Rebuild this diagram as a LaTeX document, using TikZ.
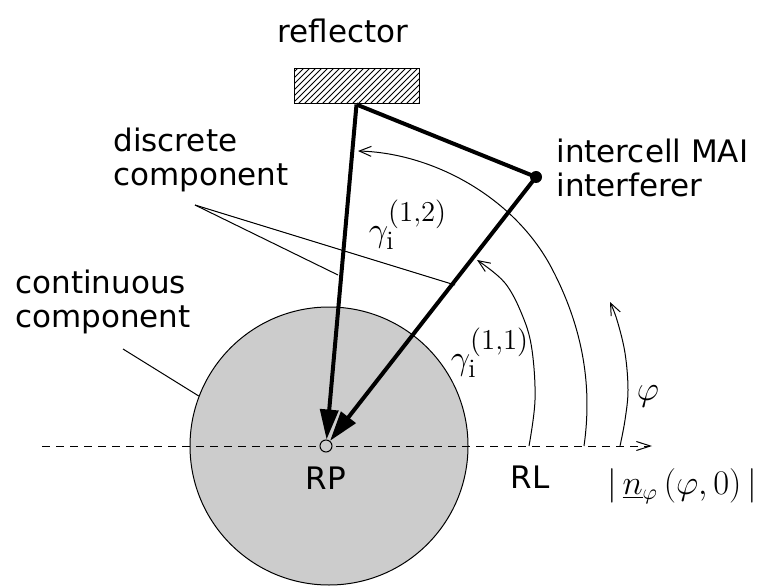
\documentclass[tikz,border=0pt]{standalone}
\usepackage{fontspec}
\setsansfont{DejaVu Sans}
\usepackage{tikz}
\usetikzlibrary{arrows.meta, positioning, patterns}
\tikzset{
  lbl/.style={font=\sffamily\fontsize{15.5}{17}\selectfont, align=left, inner sep=0pt},
  mathlbl/.style={font=\fontsize{16}{19}\selectfont, inner sep=0pt},
  anglelbl/.style={font=\fontsize{19}{22}\selectfont, inner sep=0pt},
  cellarea/.style={circle, draw, fill=black!20, minimum size=139pt, inner sep=0pt, line width=0.5pt},
  rpdot/.style={circle, draw, fill=black!20, minimum size=6pt, inner sep=0pt, line width=0.5pt},
  srcdot/.style={circle, fill=black, minimum size=6pt, inner sep=0pt},
  reflbox/.style={draw, pattern=north east lines, minimum width=62.5pt, minimum height=17.5pt,
      inner sep=0pt, line width=0.5pt},
  ray/.style={line width=2pt, -{Triangle[length=15pt, width=9pt]}},
  bounce/.style={line width=2pt},
  anglearc/.style={line width=0.5pt, -{Straight Barb[length=6pt, width=5pt]}},
  axis/.style={line width=0.5pt, dash pattern=on 4pt off 3pt, -{Straight Barb[length=7pt, width=4.5pt]}},
  leader/.style={line width=0.5pt},
}

\begin{document}
\begin{tikzpicture}[x=0.5pt, y=-0.5pt]
  \useasboundingbox (0,0) rectangle (770,588);

  % === continuous component and reference line ===
  \node[cellarea] (cont) at (329,446) {};
  \coordinate (axstart) at (42,446);
  \coordinate (axend) at (652,446);
  \draw[axis] (axstart) -- (axend);
  \node[rpdot] (rp) at (326,446) {};
  \node[lbl, below=7pt of rp] (rplbl) {RP};
  \node[lbl] (rllbl) at (530,477) {RL};
  \node[mathlbl] (nlbl) at (682,486) {$|\,\underline{n}_{\varphi}\,(\varphi,0)\,|$};

  % === reflector and interferer ===
  \node[reflbox] (refl) at (356.5,86.5) {};
  \node[lbl] (refllbl) at (343,31) {reflector};
  \node[srcdot] (intf) at (536,177) {};
  \node[lbl, anchor=west] (intflbl) at (556,168) {intercell MAI\\interferer};

  % rays
  \draw[bounce] (refl.south) -- (intf.center);
  \draw[ray] (refl.south) -- (rp);
  \draw[ray] (intf.center) -- (rp);

  % === angles ===
  \draw[anglearc] plot[smooth, tension=0.6] coordinates
      {(529,446) (535,400) (532,350) (523,317) (505,283) (477,260)};
  \draw[anglearc] (584,446) .. controls (592,390) and (585,330) .. (550,265)
      .. controls (512,196) and (432,153) .. (358,151);
  \draw[anglearc] plot[smooth, tension=0.6] coordinates
      {(620,446) (625,420) (628,390) (625,353) (617,320) (610,302)};
  \node[anglelbl] (g12) at (408,225) {$\gamma_{\mathrm{i}}^{(1,2)}$};
  \node[anglelbl] (g11) at (490,353) {$\gamma_{\mathrm{i}}^{(1,1)}$};
  \node[anglelbl] (phi) at (648,396) {$\varphi$};

  % === component labels ===
  \node[lbl, anchor=west] (disclbl) at (113,160) {discrete\\component};
  \coordinate (discfoot) at (195,205);
  \coordinate (discref) at (338,275);
  \coordinate (discint) at (455,285);
  \draw[leader] (discfoot) -- (discref);
  \draw[leader] (discfoot) -- (discint);

  \node[lbl, anchor=west] (contlbl) at (15,302) {continuous\\component};
  \coordinate (contfoot) at (123,349);
  \draw[leader] (contfoot) -- (cont.159);
\end{tikzpicture}
\end{document}
